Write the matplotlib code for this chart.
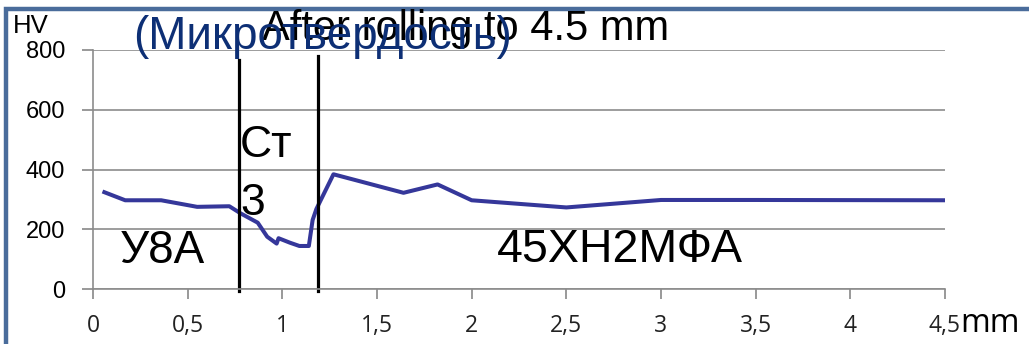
import matplotlib.pyplot as plt
from matplotlib.patches import Rectangle

# microhardness profile across the bimetal layers
depth_mm = [0.06, 0.17, 0.36, 0.55, 0.72, 0.78, 0.87, 0.92, 0.97, 0.98,
            1.04, 1.09, 1.14, 1.16, 1.18, 1.27, 1.64, 1.82, 2.0, 2.5,
            3.0, 3.5, 4.5]
hardness_hv = [324, 297, 297, 275, 277, 253, 222, 175, 152, 170,
               155, 144, 144, 231, 268, 384, 322, 350, 297, 273,
               298, 298, 297]

boundaries = [0.77, 1.19]        # layer interfaces, mm
boundary_top = [766, 781]        # how high the marker lines reach, HV

xticks = [0, 0.5, 1, 1.5, 2, 2.5, 3, 3.5, 4, 4.5]
xtick_labels = ["0", "0,5", "1", "1,5", "2", "2,5", "3", "3,5", "4", "4,5"]
yticks = [0, 200, 400, 600, 800]

W, H = 1029, 344
fig = plt.figure(figsize=(W / 100, H / 100), dpi=100)
fig.patch.set_facecolor("white")

# blue frame (left and top edges visible)
fig.patches.append(Rectangle((5.5 / W, -0.2), 1.5, (H - 9) / H + 0.2,
                             transform=fig.transFigure, fill=False,
                             edgecolor="#4a6c9b", lw=3.2))

ax = fig.add_axes([93 / W, 55 / H, 852 / W, 239 / H])
ax.plot(depth_mm, hardness_hv, color="#35379a", lw=2.9, solid_joinstyle="round")
for xb, yt in zip(boundaries, boundary_top):
    ax.plot([xb, xb], [-8, yt], color="black", lw=2.3, clip_on=False)

ax.set_xlim(0, 4.5)
ax.set_ylim(0, 800)
ax.set_xticks(xticks)
ax.set_xticklabels(xtick_labels, family="Open Sans", fontsize=16.5, color="#222222")
ax.set_yticks(yticks)
ax.set_yticklabels([str(v) for v in yticks], family="Liberation Sans", fontsize=17)
ax.tick_params(axis="x", direction="out", length=7, width=1.2, color="#888888", pad=11)
ax.tick_params(axis="y", direction="out", length=8, width=1.2, color="#888888", pad=12)
ax.grid(axis="y", color="#8c8c8c", lw=1.2)
ax.set_axisbelow(True)
for s in ["top", "right"]:
    ax.spines[s].set_visible(False)
for s in ["left", "bottom"]:
    ax.spines[s].set_color("#8c8c8c")
    ax.spines[s].set_linewidth(1.2)

ax.text(0.777, 441, "Ст", fontsize=32, family="Liberation Sans", va="baseline")
ax.text(0.777, 247, "3", fontsize=32, family="Liberation Sans", va="baseline")
ax.text(0.143, 87, "У8А", fontsize=33, family="Liberation Sans", va="baseline")
ax.text(2.134, 90, "45ХН2МФА", fontsize=33.5, family="Liberation Sans", va="baseline")

fig.text(13 / W, 1 - 33 / H, "HV", fontsize=18.5, family="Liberation Sans", va="baseline")
fig.text(262 / W, 1 - 40 / H, "After rolling to 4.5 mm", fontsize=30,
         family="Liberation Sans", va="baseline")
fig.text(133 / W, 1 - 49 / H, "(Микротвердость)", fontsize=33, color="#0d2f75",
         family="Liberation Sans", va="baseline")
fig.text(960 / W, 1 - 332 / H, "mm", fontsize=23, family="Open Sans", va="baseline")

fig.savefig("out.png", dpi=100)
